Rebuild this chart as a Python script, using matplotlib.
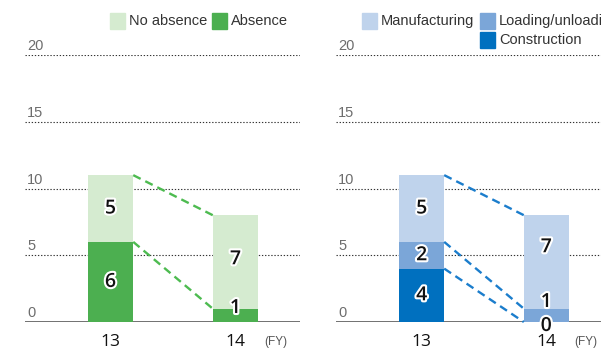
import matplotlib
matplotlib.use("Agg")
import matplotlib.pyplot as plt
import matplotlib.patheffects as pe
from matplotlib.patches import Rectangle

years = ["13", "14"]
no_absence = [5, 7]
absence = [6, 1]
construction = [4, 0]
loading = [2, 1]
manufacturing = [5, 7]
y_ticks = [0, 5, 10, 15, 20]

NARROW = ["Liberation Sans", "DejaVu Sans"]
NUMF = ["Open Sans", "DejaVu Sans"]

W, H = 601, 351
fig = plt.figure(figsize=(W / 100, H / 100), dpi=100)


def fx(x):
    return x / W


def fy(y):
    return 1 - y / H


C_LG, C_G = "#d5ebd0", "#4caf50"
C_LB, C_MB, C_DB = "#bfd3ec", "#7ba6d8", "#0070bf"
C_GD, C_BD = "#4dbb50", "#1b7dcc"


def setup(ax, xl):
    ax.set_xlim(*xl)
    ax.set_ylim(0, 20)
    ax.axis("off")
    for v in y_ticks:
        if v == 0:
            ax.axhline(0, color="#666666", lw=1.3, zorder=1)
        else:
            ax.axhline(v, color="#333333", lw=0.8, ls=(0, (1.2, 1.6)), zorder=0)
        ax.annotate(str(v), xy=(0, v), xycoords=ax.get_yaxis_transform(),
                    xytext=(2, 2), textcoords="offset pixels", va="bottom", ha="left",
                    fontsize=10.5, color="#6d6d6d", family=NARROW)
    for i, yr in enumerate(years):
        ax.annotate(yr, xy=(i, 0), xycoords="data", xytext=(0, -24),
                    textcoords="offset pixels", ha="center", va="baseline",
                    fontsize=12.5, color="#111111", family=NUMF)
    ax.annotate("(FY)", xy=(1.32, 0), xycoords="data", xytext=(0, -23),
                textcoords="offset pixels", ha="center", va="baseline",
                fontsize=8.5, color="#555555", family=NARROW)


def num(ax, x, y, s):
    ax.text(x, y, s, ha="center", va="center", fontsize=14, fontweight="semibold",
            family=NUMF, color="#111111", zorder=5,
            path_effects=[pe.withStroke(linewidth=3, foreground="white")])


def connect(ax, w, y0, y1, color):
    ax.plot([0 + w / 2, 1 - w / 2], [y0, y1], color=color, lw=1.7,
            ls=(0, (3.5, 2.2)), zorder=3, clip_on=False)


# Left panel
axL = fig.add_axes([fx(25), (H - 322) / H, fx(275), 267 / H])
setup(axL, (-0.684, 1.516))
wL = 0.364
x = [0, 1]
axL.bar(x, absence, width=wL, color=C_G, zorder=2)
axL.bar(x, no_absence, width=wL, bottom=absence, color=C_LG, zorder=2)
connect(axL, wL, absence[0] + no_absence[0], absence[1] + no_absence[1], C_GD)
connect(axL, wL, absence[0], absence[1], C_GD)
num(axL, 0, absence[0] + no_absence[0] / 2, str(no_absence[0]))
num(axL, 0, absence[0] / 2, str(absence[0]))
num(axL, 1, absence[1] + no_absence[1] / 2 + 0.2, str(no_absence[1]))
num(axL, 1, absence[1] / 2 + 0.55, str(absence[1]))

# Right panel
axR = fig.add_axes([fx(336), (H - 322) / H, fx(265), 267 / H])
setup(axR, (-0.688, 1.439))
wR = 0.361
b2 = [c + l for c, l in zip(construction, loading)]
axR.bar(x, construction, width=wR, color=C_DB, zorder=2)
axR.bar(x, loading, width=wR, bottom=construction, color=C_MB, zorder=2)
axR.bar(x, manufacturing, width=wR, bottom=b2, color=C_LB, zorder=2)
connect(axR, wR, b2[0] + manufacturing[0], b2[1] + manufacturing[1], C_BD)
connect(axR, wR, b2[0], b2[1], C_BD)
connect(axR, wR, construction[0], construction[1], C_BD)
num(axR, 0, b2[0] + manufacturing[0] / 2, str(manufacturing[0]))
num(axR, 0, construction[0] + loading[0] / 2, str(loading[0]))
num(axR, 0, construction[0] / 2, str(construction[0]))
num(axR, 1, b2[1] + manufacturing[1] / 2 + 1.1, str(manufacturing[1]))
num(axR, 1, construction[1] + loading[1] / 2 + 1.0, str(loading[1]))
num(axR, 1, construction[1] - 0.3, str(construction[1]))


def legend_item(x0, y0, color, label):
    fig.patches.append(Rectangle((fx(x0), fy(y0 + 16)), fx(15), 16 / H,
                                 transform=fig.transFigure, color=color, figure=fig))
    fig.text(fx(x0 + 19), fy(y0 + 8), label, ha="left", va="center",
             fontsize=10.5, color="#333333", family=NARROW)


legend_item(110, 13, C_LG, "No absence")
legend_item(212, 13, C_G, "Absence")
legend_item(362, 13, C_LB, "Manufacturing")
legend_item(480, 13, C_MB, "Loading/unloading")
legend_item(480, 32, C_DB, "Construction")

fig.savefig("out.png", dpi=100)
